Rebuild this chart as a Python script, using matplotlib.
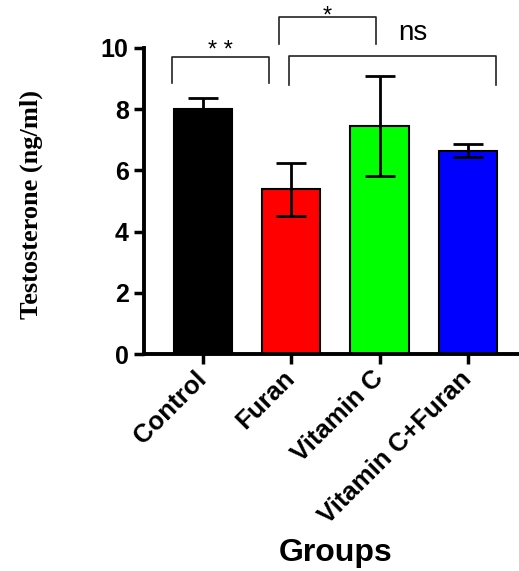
import numpy as np
import matplotlib.pyplot as plt

# values
groups = ['Control', 'Furan', 'Vitamin C', 'Vitamin C+Furan']
means = [8.02, 5.38, 7.45, 6.64]
errors = [0.36, 0.87, 1.62, 0.21]
colors = ['#000000', '#FF0000', '#00FF00', '#0000FF']

# significance brackets: (x start, x end, top y, leg bottom y, label)
brackets = [
    (-0.35, 0.75, 9.72, 8.85, '* *'),
    (0.86, 1.96, 11.02, 10.13, '*'),
]
ns_bracket = (0.98, 3.32, 9.75, 8.79, 'ns')

plt.rcParams['font.family'] = ['Liberation Sans', 'DejaVu Sans']

fig = plt.figure(figsize=(5.19, 5.71), dpi=100)
ax = fig.add_axes([0.2775, 0.380, 0.7225, 0.536])

x = np.arange(len(groups))
ax.bar(x, means, width=0.66, color=colors, edgecolor='black', linewidth=1.5, zorder=2)
ax.errorbar(x, means, yerr=errors, fmt='none', ecolor='black', elinewidth=2,
            capsize=10.5, capthick=2, zorder=3)

ax.set_xlim(-0.668, 3.58)
ax.set_ylim(0, 10)
ax.set_yticks([0, 2, 4, 6, 8, 10])
ax.set_xticks(x)
ax.set_xticklabels(groups, rotation=45, ha='right', va='center',
                   rotation_mode='anchor', fontsize=18.5, fontweight='bold')
for lab in ax.get_yticklabels():
    lab.set_fontsize(18)
    lab.set_fontweight('bold')

for s in ['top', 'right']:
    ax.spines[s].set_visible(False)
for s in ['left', 'bottom']:
    ax.spines[s].set_linewidth(2.8)
ax.tick_params(axis='both', direction='out', length=7, width=2.5, pad=4)
ax.tick_params(axis='x', pad=8)

ax.set_ylabel('Testosterone (ng/ml)', family=['Liberation Serif'], fontsize=19,
              fontweight='bold', va='center')
ax.yaxis.set_label_coords(-0.30, 0.49)
ax.set_xlabel('Groups', fontsize=23, fontweight='bold', va='center')
ax.xaxis.set_label_coords(0.51, -0.65)

for x0, x1, ytop, ybot, lab in brackets + [ns_bracket]:
    ax.plot([x0, x0, x1, x1], [ybot, ytop, ytop, ybot], color='#222222',
            linewidth=1.2, clip_on=False)
star_y = [9.69, 10.83]
for (x0, x1, ytop, ybot, lab), ys in zip(brackets, star_y):
    ax.text((x0 + x1) / 2, ys, lab, ha='center', va='baseline', fontsize=17)
x0, x1, ytop, ybot, lab = ns_bracket
ax.text(2.38, 10.25, lab, ha='center', va='baseline', fontsize=20)

plt.savefig('out.png', dpi=100)
